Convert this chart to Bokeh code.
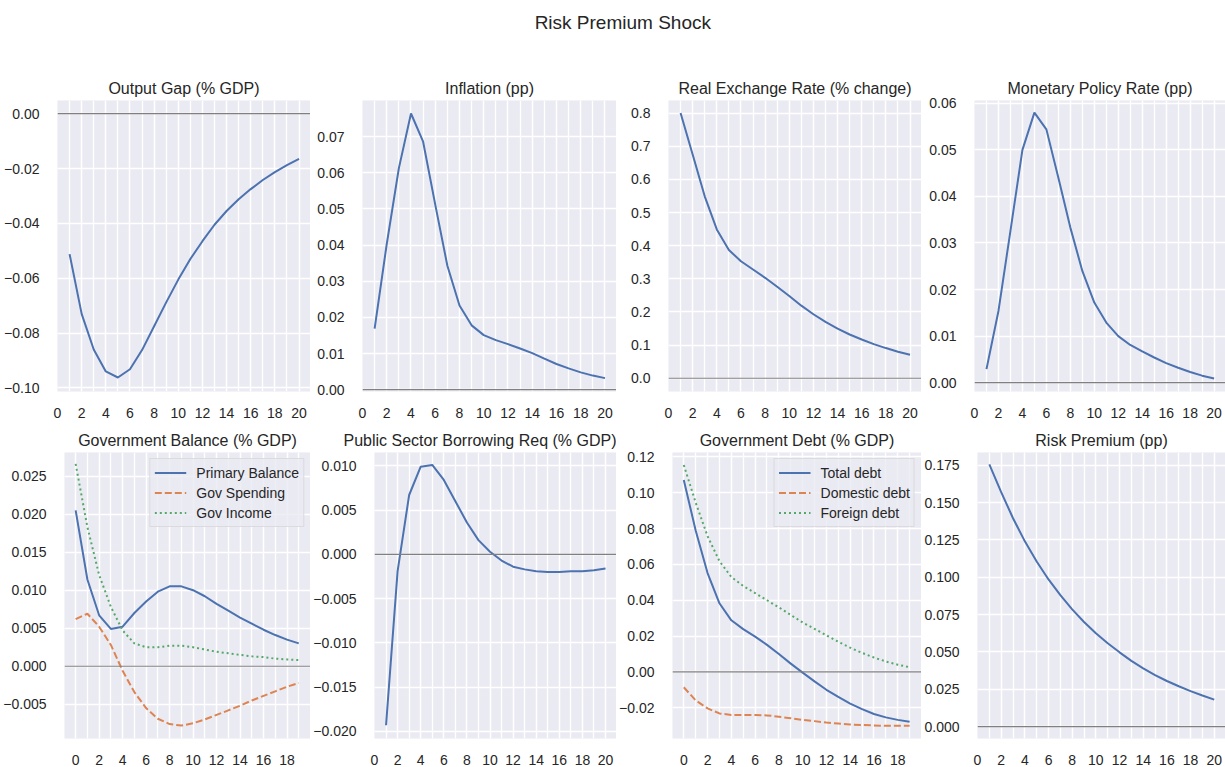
from bokeh.plotting import figure
from bokeh.layouts import column, row
from bokeh.models import Range1d, FixedTicker, CustomJSTickFormatter, Span
from bokeh.embed import file_html
from bokeh.resources import INLINE
from bokeh.core.properties import value

# ---------------- data ----------------
SUPTITLE = "Risk Premium Shock"

periods_1_20 = [1, 2, 3, 4, 5, 6, 7, 8, 9, 10, 11, 12, 13, 14, 15, 16, 17, 18, 19, 20]
periods_0_19 = [0, 1, 2, 3, 4, 5, 6, 7, 8, 9, 10, 11, 12, 13, 14, 15, 16, 17, 18, 19]

output_gap = [-0.0512, -0.0730, -0.0860, -0.0940, -0.0962, -0.0932, -0.0862, -0.0775, -0.0688, -0.0605,
              -0.0530, -0.0465, -0.0405, -0.0355, -0.0312, -0.0275, -0.0242, -0.0213, -0.0188, -0.0165]
inflation = [0.0169, 0.0403, 0.0613, 0.0764, 0.0686, 0.0512, 0.0343, 0.0233, 0.0178, 0.0151,
             0.0137, 0.0126, 0.0114, 0.0101, 0.0086, 0.0071, 0.0059, 0.0048, 0.0039, 0.0032]
real_exchange_rate = [0.800, 0.675, 0.549, 0.449, 0.387, 0.353, 0.328, 0.303, 0.276, 0.248,
                      0.219, 0.193, 0.170, 0.150, 0.132, 0.117, 0.103, 0.091, 0.080, 0.071]
policy_rate = [0.0029, 0.0154, 0.0326, 0.0500, 0.0580, 0.0544, 0.0440, 0.0333, 0.0240, 0.0172,
               0.0129, 0.0100, 0.0081, 0.0067, 0.0054, 0.0042, 0.0032, 0.0023, 0.0015, 0.0009]

primary_balance = [0.0205, 0.0114, 0.0067, 0.0049, 0.0052, 0.0070, 0.0085, 0.0098, 0.0105, 0.0105,
                   0.0100, 0.0092, 0.0082, 0.0073, 0.0064, 0.0056, 0.0048, 0.0041, 0.0035, 0.0030]
gov_spending = [0.0062, 0.0069, 0.0052, 0.0028, -0.0006, -0.0034, -0.0055, -0.0069, -0.0076, -0.0078,
                -0.0075, -0.0070, -0.0064, -0.0058, -0.0052, -0.0045, -0.0039, -0.0033, -0.0027, -0.0022]
gov_income = [0.0266, 0.0183, 0.0120, 0.0078, 0.0047, 0.0030, 0.0025, 0.0025, 0.0027, 0.0027,
              0.0025, 0.0022, 0.0019, 0.0017, 0.0015, 0.0013, 0.0012, 0.0010, 0.0009, 0.0008]

psbr = [-0.0193, -0.0019, 0.0067, 0.0099, 0.0101, 0.0084, 0.0060, 0.0036, 0.0016, 0.0003,
        -0.0007, -0.0014, -0.0017, -0.0019, -0.0020, -0.0020, -0.0019, -0.0019, -0.0018, -0.0016]

total_debt = [0.1072, 0.0789, 0.0552, 0.0383, 0.0288, 0.0239, 0.0197, 0.0151, 0.0100, 0.0046,
              -0.0004, -0.0053, -0.0100, -0.0140, -0.0177, -0.0208, -0.0235, -0.0254, -0.0268, -0.0279]
domestic_debt = [-0.0086, -0.0159, -0.0204, -0.0232, -0.0241, -0.0241, -0.0241, -0.0243, -0.0250, -0.0259,
                 -0.0268, -0.0275, -0.0283, -0.0288, -0.0294, -0.0297, -0.0299, -0.0301, -0.0301, -0.0301]
foreign_debt = [0.1155, 0.0945, 0.0758, 0.0618, 0.0530, 0.0480, 0.0440, 0.0400, 0.0360, 0.0318,
                0.0276, 0.0240, 0.0204, 0.0168, 0.0135, 0.0106, 0.0080, 0.0058, 0.0040, 0.0026]

risk_premium = [0.1755, 0.1570, 0.1395, 0.1240, 0.1105, 0.0985, 0.0880, 0.0785, 0.0700, 0.0625,
                0.0558, 0.0497, 0.0440, 0.0390, 0.0345, 0.0305, 0.0270, 0.0237, 0.0208, 0.0180]

panel_titles = ["Output Gap (% GDP)", "Inflation (pp)", "Real Exchange Rate (% change)",
                "Monetary Policy Rate (pp)", "Government Balance (% GDP)",
                "Public Sector Borrowing Req (% GDP)", "Government Debt (% GDP)", "Risk Premium (pp)"]
balance_labels = ["Primary Balance", "Gov Spending", "Gov Income"]
debt_labels = ["Total debt", "Domestic debt", "Foreign debt"]

x_tick_labels = [0, 2, 4, 6, 8, 10, 12, 14, 16, 18, 20]
x_minor_ticks = [0, 1, 2, 3, 4, 5, 6, 7, 8, 9, 10, 11, 12, 13, 14, 15, 16, 17, 18, 19, 20, 21]

y_ticks_output_gap = [-0.10, -0.08, -0.06, -0.04, -0.02, 0.00]
y_ticks_inflation = [0.00, 0.01, 0.02, 0.03, 0.04, 0.05, 0.06, 0.07]
y_ticks_rer = [0.0, 0.1, 0.2, 0.3, 0.4, 0.5, 0.6, 0.7, 0.8]
y_ticks_policy = [0.00, 0.01, 0.02, 0.03, 0.04, 0.05, 0.06]
y_ticks_balance = [-0.005, 0.000, 0.005, 0.010, 0.015, 0.020, 0.025]
y_ticks_psbr = [-0.020, -0.015, -0.010, -0.005, 0.000, 0.005, 0.010]
y_ticks_debt = [-0.02, 0.00, 0.02, 0.04, 0.06, 0.08, 0.10, 0.12]
y_ticks_risk = [0.000, 0.025, 0.050, 0.075, 0.100, 0.125, 0.150, 0.175]

# ---------------- style ----------------
FONT = "Liberation Sans"
TEXT = "#262626"
FACE = "#EAEAF2"
BLUE, ORANGE, GREEN = "#4C72B0", "#DD8452", "#55A868"

col_widths = [310, 306, 305, 304]
left_borders = [57, 52, 52, 53]


def make_panel(ci, title, x_rng, y_rng, y_ticks, decimals, height, top, bottom,
               title_align="center", hide_last_x=False):
    p = figure(width=col_widths[ci], height=height,
               x_range=Range1d(*x_rng), y_range=Range1d(*y_rng),
               output_backend="svg", toolbar_location=None,
               min_border_left=left_borders[ci], min_border_right=0,
               min_border_top=top, min_border_bottom=bottom,
               background_fill_color=FACE, border_fill_color="white",
               outline_line_color=None)
    p.title.text = title
    p.title.align = title_align
    p.title.text_font = FONT
    p.title.text_font_size = "16px"
    p.title.text_font_style = "normal"
    p.title.text_color = TEXT
    p.title.standoff = 7

    p.xaxis.ticker = FixedTicker(ticks=x_tick_labels, minor_ticks=x_minor_ticks)
    if hide_last_x:
        p.xaxis.major_label_overrides = {x_tick_labels[-1]: ""}
    p.yaxis.ticker = FixedTicker(ticks=y_ticks)
    p.yaxis.formatter = CustomJSTickFormatter(
        args=dict(d=decimals),
        code="return (tick < -1e-12 ? '\\u2212' : '') + Math.abs(tick).toFixed(d);")
    for ax in (p.xaxis, p.yaxis):
        ax.axis_line_color = None
        ax.major_tick_line_color = None
        ax.minor_tick_line_color = None
        ax.major_label_text_font = FONT
        ax.major_label_text_font_size = "14px"
        ax.major_label_text_color = TEXT
    p.xaxis.major_label_standoff = 10
    p.yaxis.major_label_standoff = 12

    p.xgrid.grid_line_color = "white"
    p.xgrid.grid_line_width = 1.3
    p.xgrid.minor_grid_line_color = "white"
    p.xgrid.minor_grid_line_width = 1.3
    p.ygrid.grid_line_color = "white"
    p.ygrid.grid_line_width = 1.3

    p.add_layout(Span(location=0, dimension="width", line_color="#808080", line_width=1.2))
    return p


def style_legend(p):
    lg = p.legend[0]
    lg.location = "top_right"
    lg.margin = 6
    lg.padding = 4
    lg.spacing = 1
    lg.label_height = 19
    lg.glyph_height = 19
    lg.glyph_width = 32
    lg.label_standoff = 10
    lg.label_text_font = FONT
    lg.label_text_font_size = "14px"
    lg.label_text_color = TEXT
    lg.background_fill_color = FACE
    lg.background_fill_alpha = 0.8
    lg.border_line_color = "#CCCCCC"
    lg.border_line_width = 1


XR_A = (0, 20.95)
XR_B = (-0.95, 20)
H1, T1, B1 = 363, 38, 34
H2, T2, B2 = 342, 27, 26

# ---------------- top row ----------------
p1 = make_panel(0, panel_titles[0], XR_A, (-0.1013, 0.0048), y_ticks_output_gap, 2, H1, T1, B1)
p1.line(periods_1_20, output_gap, line_color=BLUE, line_width=2)

p2 = make_panel(1, panel_titles[1], XR_A, (-0.0005, 0.0800), y_ticks_inflation, 2, H1, T1, B1)
p2.line(periods_1_20, inflation, line_color=BLUE, line_width=2)

p3 = make_panel(2, panel_titles[2], XR_A, (-0.040, 0.838), y_ticks_rer, 1, H1, T1, B1)
p3.line(periods_1_20, real_exchange_rate, line_color=BLUE, line_width=2)

p4 = make_panel(3, panel_titles[3], XR_A, (-0.0019, 0.0606), y_ticks_policy, 2, H1, T1, B1)
p4.line(periods_1_20, policy_rate, line_color=BLUE, line_width=2)

# ---------------- bottom row ----------------
p5 = make_panel(0, panel_titles[4], XR_B, (-0.0095, 0.0281), y_ticks_balance, 3, H2, T2, B2,
                hide_last_x=True)
p5.line(periods_0_19, primary_balance, line_color=BLUE, line_width=2, legend_label=balance_labels[0])
p5.line(periods_0_19, gov_spending, line_color=ORANGE, line_width=2, line_dash="7 3",
        legend_label=balance_labels[1])
p5.line(periods_0_19, gov_income, line_color=GREEN, line_width=2, line_dash="2 3",
        legend_label=balance_labels[2])
style_legend(p5)

p6 = make_panel(1, panel_titles[5], XR_A, (-0.0208, 0.0115), y_ticks_psbr, 3, H2, T2, B2,
                title_align="right")
p6.line(periods_1_20, psbr, line_color=BLUE, line_width=2)

p7 = make_panel(2, panel_titles[6], XR_B, (-0.0372, 0.1225), y_ticks_debt, 2, H2, T2, B2,
                hide_last_x=True)
p7.line(periods_0_19, total_debt, line_color=BLUE, line_width=2, legend_label=debt_labels[0])
p7.line(periods_0_19, domestic_debt, line_color=ORANGE, line_width=2, line_dash="7 3",
        legend_label=debt_labels[1])
p7.line(periods_0_19, foreign_debt, line_color=GREEN, line_width=2, line_dash="2 3",
        legend_label=debt_labels[2])
style_legend(p7)

p8 = make_panel(3, panel_titles[7], XR_A, (-0.008, 0.1835), y_ticks_risk, 3, H2, T2, B2)
p8.line(periods_1_20, risk_premium, line_color=BLUE, line_width=2)

# ---------------- super title ----------------
head = figure(width=1225, height=62, x_range=Range1d(0, 1), y_range=Range1d(0, 1),
              output_backend="svg", toolbar_location=None, min_border=0,
              x_axis_location=None, y_axis_location=None, outline_line_color=None,
              background_fill_color="white", border_fill_color="white")
head.grid.visible = False
head.text(x=[0.508], y=[0.64], text=[SUPTITLE], text_align="center", text_baseline="middle",
          text_font=value(FONT), text_font_size="19px", text_color=TEXT)

layout = column(head, row(p1, p2, p3, p4), row(p5, p6, p7, p8))

open("out.html", "w").write(file_html(layout, INLINE, title=SUPTITLE))
